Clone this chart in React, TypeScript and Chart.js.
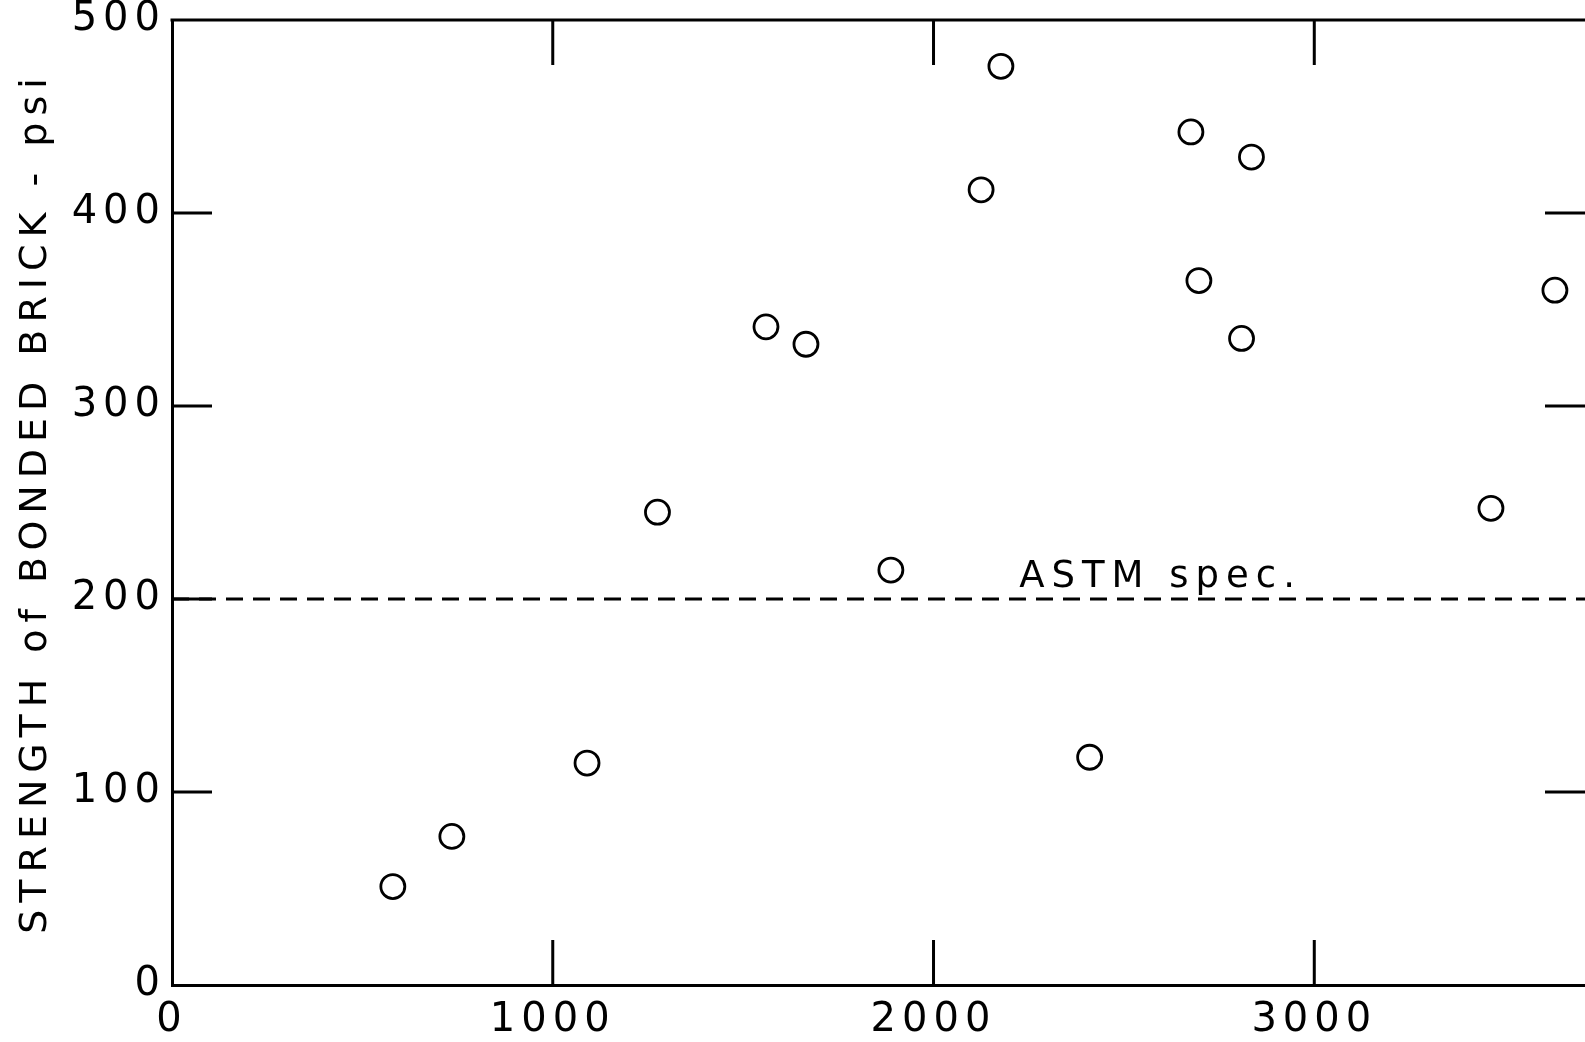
import React, { useEffect, useRef } from 'react';
import { Chart, registerables } from 'chart.js';

Chart.register(...registerables);

// ---- data ----
const xValues = [580, 735, 1090, 1275, 1560, 1665, 1888, 2125, 2177, 2410, 2676, 2697, 2809, 2835, 3464, 3632];
const strengthPsi = [51, 77, 115, 245, 341, 332, 215, 412, 476, 118, 442, 365, 335, 429, 247, 360];
const specValue = 200;
const specLabel = 'ASTM spec.';
const specLabelX = 2225;
const xTicks = [0, 1000, 2000, 3000];
const yTicks = [0, 100, 200, 300, 400, 500];
const xInnerTicks = [1000, 2000, 3000];
const yInnerTicks = [100, 200, 300, 400];
const xMin = 0;
const xMax = 3711;
const yMin = 0;
const yMax = 500;
const yTitle = 'STRENGTH of BONDED BRICK - psi';

const FONT = '"DejaVu Sans", sans-serif';
const TITLE_SPACING = '7px';
const TICK_SPACING = '6px';

const framePlugin = {
  id: 'frame',
  beforeLayout(chart: any) {
    chart.ctx.letterSpacing = TICK_SPACING;
  },
  beforeDraw(chart: any) {
    const ctx = chart.ctx;
    ctx.letterSpacing = TITLE_SPACING;
    ctx.save();
    ctx.fillStyle = '#ffffff';
    ctx.fillRect(0, 0, chart.width, chart.height);
    ctx.restore();
  },
  beforeDatasetsDraw(chart: any) {
    chart.ctx.letterSpacing = TICK_SPACING;
  },
  afterDraw(chart: any) {
    const ctx = chart.ctx;
    const xs = chart.scales.x;
    const ys = chart.scales.y;
    const { left, right, top, bottom } = chart.chartArea;
    ctx.save();
    ctx.strokeStyle = '#000';
    ctx.lineWidth = 3;
    ctx.lineCap = 'butt';
    // top border
    ctx.beginPath();
    ctx.moveTo(left - 1.5, top);
    ctx.lineTo(right, top);
    ctx.stroke();
    const tl = 45;
    // x inner ticks, bottom and top
    xInnerTicks.forEach((v) => {
      const px = xs.getPixelForValue(v);
      ctx.beginPath();
      ctx.moveTo(px, bottom);
      ctx.lineTo(px, bottom - tl);
      ctx.moveTo(px, top);
      ctx.lineTo(px, top + tl);
      ctx.stroke();
    });
    // y inner ticks, left and right
    yInnerTicks.forEach((v) => {
      const py = ys.getPixelForValue(v);
      ctx.beginPath();
      ctx.moveTo(left, py);
      ctx.lineTo(left + 40, py);
      if (v !== specValue) {
        ctx.moveTo(right, py);
        ctx.lineTo(right - 40, py);
      }
      ctx.stroke();
    });
    // spec label
    ctx.fillStyle = '#000';
    ctx.font = `37px ${FONT}`;
    ctx.letterSpacing = '7px';
    ctx.textAlign = 'left';
    ctx.textBaseline = 'alphabetic';
    ctx.fillText(specLabel, xs.getPixelForValue(specLabelX), ys.getPixelForValue(specValue) - 12);
    ctx.restore();
  },
};

export default function App() {
  const canvasRef = useRef<HTMLCanvasElement | null>(null);

  useEffect(() => {
    const canvas = canvasRef.current;
    if (!canvas) return;
    const points = xValues.map((x, i) => ({ x, y: strengthPsi[i] }));
    const chart = new Chart(canvas, {
      type: 'scatter',
      data: {
        datasets: [
          {
            type: 'line',
            label: 'spec',
            data: [
              { x: xMin, y: specValue },
              { x: xMax, y: specValue },
            ],
            borderColor: '#000',
            borderWidth: 3,
            borderDash: [17, 10],
            pointRadius: 0,
            fill: false,
          } as any,
          {
            label: 'strength',
            data: points,
            pointStyle: 'circle',
            pointRadius: 12,
            pointHoverRadius: 12,
            borderWidth: 2.8,
            borderColor: '#000',
            backgroundColor: 'rgba(255,255,255,0)',
          },
        ],
      },
      options: {
        animation: false,
        responsive: false,
        maintainAspectRatio: false,
        events: [],
        layout: { autoPadding: false, padding: { top: 20, right: 0, bottom: 0, left: 0 } },
        plugins: {
          legend: { display: false },
          tooltip: { enabled: false },
          title: { display: false },
        },
        scales: {
          x: {
            type: 'linear',
            min: xMin,
            max: xMax,
            afterBuildTicks: (scale: any) => {
              scale.ticks = xTicks.map((v) => ({ value: v }));
            },
            afterFit: (scale: any) => {
              scale.height = 57;
              scale.paddingLeft = 0;
              scale.paddingRight = 0;
            },
            grid: { display: false, drawTicks: false },
            border: { display: true, color: '#000', width: 3 },
            ticks: {
              z: 1,
              color: '#000',
              padding: 12,
              maxRotation: 0,
              autoSkip: false,
              font: { family: FONT, size: 40 },
              callback: (v: any) => String(v),
            },
          },
          y: {
            type: 'linear',
            min: yMin,
            max: yMax,
            afterBuildTicks: (scale: any) => {
              scale.ticks = yTicks.map((v) => ({ value: v }));
            },
            afterFit: (scale: any) => {
              scale.width = 172;
              scale.paddingTop = 0;
              scale.paddingBottom = 0;
            },
            grid: { display: false, drawTicks: false },
            border: { display: true, color: '#000', width: 3 },
            title: {
              display: true,
              text: yTitle,
              color: '#000',
              font: { family: FONT, size: 38 },
              padding: { top: 13, bottom: 0 },
            },
            ticks: {
              z: 1,
              color: '#000',
              padding: 6,
              autoSkip: false,
              font: { family: FONT, size: 40 },
              callback: (v: any) => String(v),
            },
          },
        },
      },
      plugins: [framePlugin],
    });
    return () => chart.destroy();
  }, []);

  return (
    <div style={{ position: 'fixed', left: 0, top: 0, width: 1585, height: 1042, background: '#fff' }}>
      <canvas ref={canvasRef} width={1585} height={1042} style={{ width: 1585, height: 1042, display: 'block' }} />
    </div>
  );
}
